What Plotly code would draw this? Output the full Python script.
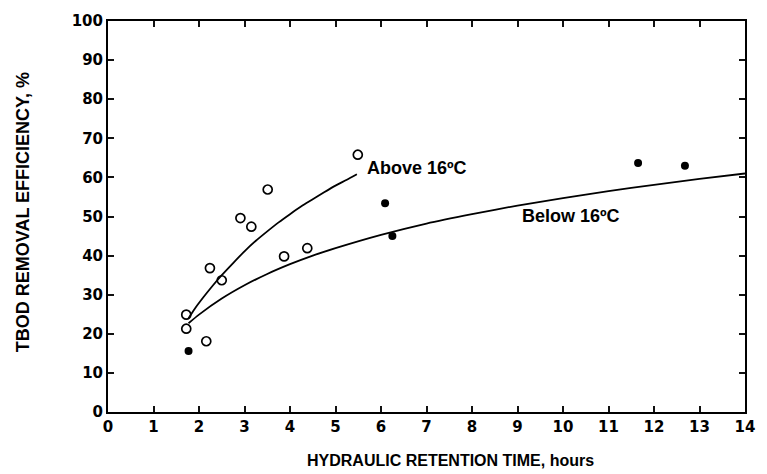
import plotly.graph_objects as go

# Open circles: above 16 C
above_x = [1.72, 1.72, 2.16, 2.24, 2.50, 2.91, 3.15, 3.51, 3.87, 4.38, 5.49]
above_y = [24.9, 21.3, 18.1, 36.8, 33.7, 49.6, 47.4, 56.9, 39.8, 41.9, 65.8]
# Filled circles: below 16 C
below_x = [1.77, 6.09, 6.25, 11.65, 12.68]
below_y = [15.6, 53.4, 45.0, 63.7, 63.0]

# Fitted curves
above_curve_x = [1.77, 1.9, 2.1, 2.3, 2.5, 2.75, 3.0, 3.25, 3.5, 3.75, 4.0, 4.25, 4.5, 4.75, 5.0, 5.25, 5.47]
above_curve_y = [24.0, 26.3, 29.4, 32.3, 35.0, 38.1, 41.1, 43.8, 46.2, 48.5, 50.6, 52.6, 54.4, 56.2, 57.9, 59.4, 60.8]
below_curve_x = [1.77, 2.0, 2.5, 3.0, 3.5, 4.0, 4.5, 5.0, 6.0, 7.0, 8.0, 9.0, 10.0, 11.0, 12.0, 13.0, 14.0]
below_curve_y = [22.7, 24.9, 29.0, 32.4, 35.3, 37.8, 40.0, 41.9, 45.3, 48.2, 50.6, 52.8, 54.7, 56.5, 58.1, 59.6, 61.0]

x_ticks = list(range(0, 15))
y_ticks = list(range(0, 101, 10))

FONT = "Liberation Sans, Arial, sans-serif"
TICKFONT = "DejaVu Sans, Arial, sans-serif"

fig = go.Figure()
fig.add_trace(go.Scatter(x=above_curve_x, y=above_curve_y, mode="lines",
                         line=dict(color="black", width=1.8, shape="spline", smoothing=0.6), hoverinfo="skip"))
fig.add_trace(go.Scatter(x=below_curve_x, y=below_curve_y, mode="lines",
                         line=dict(color="black", width=1.8, shape="spline", smoothing=0.6), hoverinfo="skip"))
fig.add_trace(go.Scatter(x=above_x, y=above_y, mode="markers",
                         marker=dict(symbol="circle-open", size=9, color="black", line=dict(width=1.7))))
fig.add_trace(go.Scatter(x=below_x, y=below_y, mode="markers",
                         marker=dict(symbol="circle", size=8, color="black")))

fig.add_annotation(x=5.65, y=62.4, xref="x", yref="y", text="<b>Above 16ºC</b>", showarrow=False,
                   xanchor="left", yanchor="middle", font=dict(family=FONT, size=18, color="black"))
fig.add_annotation(x=9.05, y=50.1, xref="x", yref="y", text="<b>Below 16ºC</b>", showarrow=False,
                   xanchor="left", yanchor="middle", font=dict(family=FONT, size=18, color="black"))

fig.add_annotation(x=0.538, y=-0.123, xref="paper", yref="paper", text="<b>HYDRAULIC RETENTION TIME, hours</b>",
                   showarrow=False, xanchor="center", yanchor="middle", font=dict(family=FONT, size=16, color="black"))
fig.add_annotation(x=-0.134, y=0.51, xref="paper", yref="paper", text="<b>TBOD REMOVAL EFFICIENCY, %</b>",
                   showarrow=False, textangle=-90, xanchor="center", yanchor="middle",
                   font=dict(family=FONT, size=18, color="black"))

fig.update_xaxes(range=[0, 14], tickvals=x_ticks, ticktext=["<b>%d</b>" % v for v in x_ticks],
                 showgrid=False, showline=True, linecolor="black", linewidth=2,
                 mirror="ticks", ticks="inside", ticklen=6, tickwidth=2, tickcolor="#111111",
                 tickfont=dict(family=TICKFONT, size=15, color="black"))
fig.update_yaxes(range=[0, 100], tickvals=y_ticks, ticktext=["<b>%d</b>" % v for v in y_ticks],
                 showgrid=False, showline=True, linecolor="black", linewidth=2,
                 mirror="ticks", ticks="inside", ticklen=6, tickwidth=2, tickcolor="#111111",
                 tickfont=dict(family=TICKFONT, size=15, color="black"),
                 ticksuffix="  ")

fig.update_layout(width=767, height=474, margin=dict(l=108, r=15, t=15, b=62),
                  plot_bgcolor="white", showlegend=False)

fig.write_html("out.html")
